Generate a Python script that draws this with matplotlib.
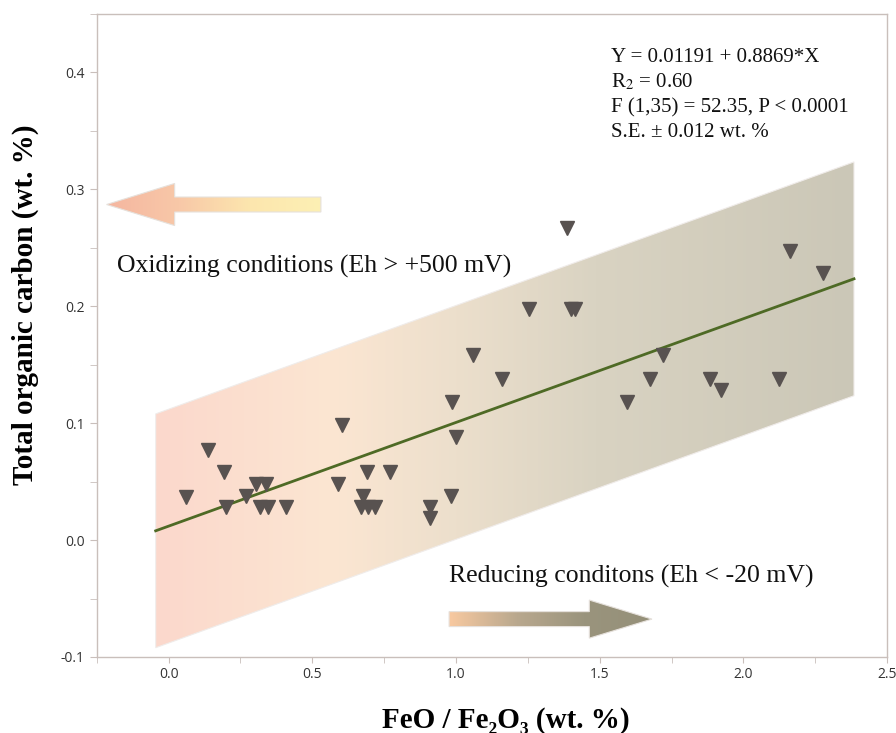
import numpy as np
import matplotlib
matplotlib.use("Agg")
import matplotlib.pyplot as plt
from matplotlib.colors import LinearSegmentedColormap
from matplotlib.patches import Polygon
from matplotlib.ticker import MultipleLocator, FormatStrFormatter

# ---------------- data ----------------
feo_fe2o3 = [0.062, 0.137, 0.192, 0.199, 0.271, 0.305, 0.340, 0.317, 0.346, 0.408,
             0.590, 0.605, 0.677, 0.671, 0.689, 0.695, 0.718, 0.772, 0.909, 0.909,
             0.983, 0.987, 0.999, 1.060, 1.159, 1.255, 1.388, 1.400, 1.415, 1.595,
             1.676, 1.720, 1.885, 1.922, 2.123, 2.164, 2.278]
toc = [0.037, 0.077, 0.058, 0.028, 0.038, 0.048, 0.048, 0.028, 0.028, 0.028,
       0.048, 0.098, 0.038, 0.028, 0.058, 0.028, 0.028, 0.058, 0.028, 0.019,
       0.038, 0.118, 0.088, 0.158, 0.138, 0.198, 0.267, 0.198, 0.198, 0.118,
       0.138, 0.158, 0.138, 0.128, 0.138, 0.247, 0.228]
intercept = 0.01191
slope = 0.08869
fit_range = [-0.045, 2.385]
band_halfwidth = 0.1

eq_lines = ["Y = 0.01191 + 0.8869*X", r"R$_{2}$ = 0.60",
            "F (1,35) = 52.35, P < 0.0001", "S.E. ± 0.012 wt. %"]

plt.rcParams['mathtext.fontset'] = 'stix'
serif = ['Liberation Serif', 'DejaVu Serif']

fig = plt.figure(figsize=(8.96, 7.33), dpi=100)
ax = fig.add_axes([0.108, 0.1037, 0.882, 0.8773])
ax.set_xlim(-0.25, 2.5)
ax.set_ylim(-0.1, 0.45)

# ---------- confidence band with gradient ----------
xs = np.array(fit_range)
yl = intercept + slope * xs
band_poly = np.array([[xs[0], yl[0] + band_halfwidth], [xs[1], yl[1] + band_halfwidth],
                      [xs[1], yl[1] - band_halfwidth], [xs[0], yl[0] - band_halfwidth]])
band_cmap = LinearSegmentedColormap.from_list(
    "band", [(0.0, "#fbd8cc"), (0.25, "#fce6d2"), (0.43, "#ecdfcc"),
             (0.63, "#d9d3c2"), (1.0, "#cbc7b7")])
grad = np.linspace(0, 1, 256).reshape(1, -1)
ymin_b, ymax_b = band_poly[:, 1].min(), band_poly[:, 1].max()
im = ax.imshow(grad, cmap=band_cmap, aspect='auto',
               extent=[xs[0], xs[1], ymin_b, ymax_b], zorder=1)
bp = Polygon(band_poly, closed=True, facecolor='none', edgecolor='#f0ecea', lw=0.8, zorder=1.5)
ax.add_patch(bp)
im.set_clip_path(bp)

# ---------- gradient arrows ----------
def grad_arrow(ax, x_tail, x_tip, y, shaft_h, head_h, head_len, colors):
    d = 1 if x_tip > x_tail else -1
    xb = x_tip - d * head_len
    pts = [[x_tail, y - shaft_h], [xb, y - shaft_h], [xb, y - head_h], [x_tip, y],
           [xb, y + head_h], [xb, y + shaft_h], [x_tail, y + shaft_h]]
    poly = Polygon(pts, closed=True, facecolor='none', edgecolor='#e6e1dc', lw=0.8, zorder=3)
    ax.add_patch(poly)
    cm = LinearSegmentedColormap.from_list("a", colors)
    g = np.linspace(0, 1, 256).reshape(1, -1)
    x0, x1 = min(x_tail, x_tip), max(x_tail, x_tip)
    im2 = ax.imshow(g, cmap=cm, aspect='auto', extent=[x0, x1, y - head_h, y + head_h], zorder=2.5)
    im2.set_clip_path(poly)

grad_arrow(ax, 0.530, -0.216, 0.287, 0.0064, 0.018, 0.237,
           ["#f5b6a0", "#f8c8a8", "#fce6ae", "#fdf0b4"])
grad_arrow(ax, 0.976, 1.682, -0.0676, 0.0064, 0.0163, 0.218,
           ["#f8c9a0", "#b9a88e", "#9a947d", "#959079"])

# ---------- fit line and points ----------
ax.plot(xs, yl, color='#4e6a25', lw=2.0, zorder=4)
ax.plot(feo_fe2o3, toc, linestyle='none', marker='v', ms=10, color='#585250',
        markeredgecolor='#585250', zorder=5)

# ---------- texts ----------
for i, line in enumerate(eq_lines):
    fig.text(0.682, 1 - (57 + 25.3 * i) / 733, line, fontsize=15,
             family=serif, va='center', ha='left', color='#111111')
fig.text(0.1306, 0.637, "Oxidizing conditions (Eh > +500 mV)",
         fontsize=18.5, family=serif, va='center', ha='left', color='#111111')
fig.text(0.501, 0.213, "Reducing conditons (Eh < -20 mV)",
         fontsize=18.5, family=serif, va='center', ha='left', color='#111111')

ax.set_xlabel("FeO / Fe₂O₃ (wt. %)", family=serif, fontsize=21, fontweight='bold')
ax.set_ylabel("Total organic carbon (wt. %)", family=serif, fontsize=21, fontweight='bold')
ax.xaxis.set_label_coords(0.518, -0.077)
ax.yaxis.set_label_coords(-0.073, 0.547)

# ---------- axes styling ----------
for s in ax.spines.values():
    s.set_color('#c9bfbb')
    s.set_linewidth(1.0)
ax.xaxis.set_major_locator(MultipleLocator(0.5))
ax.xaxis.set_minor_locator(MultipleLocator(0.25))
ax.yaxis.set_major_locator(MultipleLocator(0.1))
ax.yaxis.set_minor_locator(MultipleLocator(0.05))
ax.xaxis.set_major_formatter(FormatStrFormatter('%.1f'))
ax.yaxis.set_major_formatter(FormatStrFormatter('%.1f'))
ax.tick_params(which='both', direction='out', color='#c9bfbb', labelcolor='#333333',
               labelsize=10, labelfontfamily='Open Sans')
ax.tick_params(axis='y', which='both', length=5)
ax.tick_params(axis='x', which='both', length=4)
ax.tick_params(top=False, right=False)

fig.savefig("out.png", dpi=100)
